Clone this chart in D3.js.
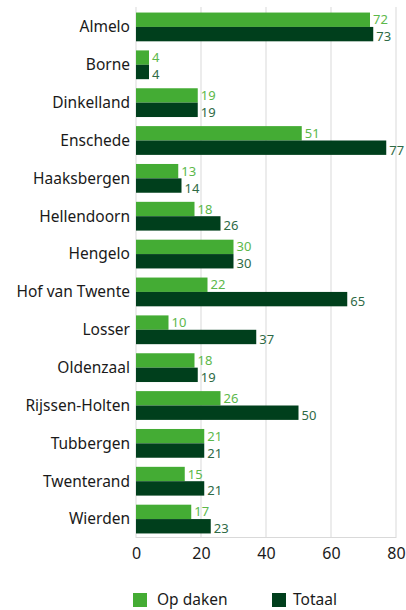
<!DOCTYPE html>
<html><head><meta charset="utf-8">
<script src="https://cdn.jsdelivr.net/npm/d3@7"></script>
<style>body{margin:0;background:#fff}svg{display:block}text{font-family:"Noto Sans",sans-serif}</style>
</head><body>
<script>
const categories = ["Almelo","Borne","Dinkelland","Enschede","Haaksbergen","Hellendoorn","Hengelo","Hof van Twente","Losser","Oldenzaal","Rijssen-Holten","Tubbergen","Twenterand","Wierden"];
const opDaken = [72,4,19,51,13,18,30,22,10,18,26,21,15,17];
const totaal  = [73,4,19,77,14,26,30,65,37,19,50,21,21,23];
const xTicks = [0,20,40,60,80];
const seriesNames = ["Op daken","Totaal"];
const colors = ["#44ac34","#003f1c"];
const labelColors = ["#5cb84a","#2e6a45"];

const W=406,H=610;
const svg=d3.select("body").append("svg").attr("width",W).attr("height",H);
const x=d3.scaleLinear().domain([0,80]).range([136,396]);
const y=d3.scaleBand().domain(categories).range([8,538]).paddingInner(0.24).paddingOuter(0.12);
const sub=d3.scaleBand().domain([0,1]).range([0,y.bandwidth()]);

// grid
svg.append("g").selectAll("line").data(xTicks).join("line")
  .attr("x1",d=>x(d)).attr("x2",d=>x(d)).attr("y1",7).attr("y2",538)
  .attr("stroke","#d9d9d9").attr("stroke-width",1);
svg.append("line").attr("x1",x(0)).attr("x2",x(80)).attr("y1",537.5).attr("y2",537.5).attr("stroke","#d9d9d9");

// axis
const ax=svg.append("g").attr("transform","translate(0,538)")
  .call(d3.axisBottom(x).tickValues(xTicks).tickSize(0).tickPadding(10));
ax.select(".domain").remove();
ax.selectAll("text").attr("font-size",16).attr("fill","#1a1a1a").style("font-family","Noto Sans");

// category labels
svg.append("g").selectAll("text").data(categories).join("text")
  .attr("x",130).attr("y",d=>y(d)+y.bandwidth()/2).attr("dy","0.35em")
  .attr("text-anchor","end").attr("font-size",15.5).attr("fill","#1a1a1a").text(d=>d);

const series=[opDaken,totaal];
const labelShift=[0,2.5];
series.forEach((vals,si)=>{
  const g=svg.append("g");
  g.selectAll("rect").data(vals).join("rect")
    .attr("x",x(0)).attr("y",(d,i)=>y(categories[i])+sub(si))
    .attr("width",d=>x(d)-x(0)).attr("height",sub.bandwidth()).attr("fill",colors[si]);
  g.selectAll("text").data(vals).join("text")
    .attr("x",d=>x(d)+3).attr("y",(d,i)=>y(categories[i])+sub(si)+sub.bandwidth()/2+labelShift[si])
    .attr("dy","0.35em").attr("font-size",13).attr("fill",labelColors[si]).text(d=>d);
});

// legend
const leg=[{x:133,tx:157},{x:272,tx:293}];
seriesNames.forEach((n,i)=>{
  svg.append("rect").attr("x",leg[i].x).attr("y",593).attr("width",14).attr("height",14).attr("fill",colors[i]);
  svg.append("text").attr("x",leg[i].tx).attr("y",600).attr("dy","0.35em").attr("font-size",15.5).attr("fill","#1a1a1a").text(n);
});
</script>
</body></html>
